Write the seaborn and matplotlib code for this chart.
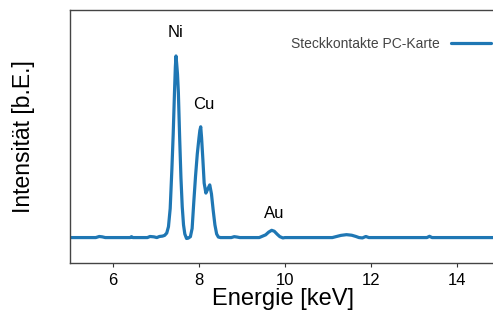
import matplotlib
matplotlib.use("Agg")
import matplotlib.pyplot as plt
import seaborn as sns
import pandas as pd

# Energy (keV) and intensity (arbitrary units)
energy = [5.0, 5.3, 5.6, 5.68, 5.75, 5.82, 6.2, 6.40, 6.43, 6.46, 6.8, 6.86, 6.95, 7.02,
          7.08, 7.15, 7.20, 7.25, 7.29, 7.33, 7.37, 7.40, 7.43, 7.45, 7.465, 7.48, 7.50,
          7.52, 7.55, 7.58, 7.61, 7.64, 7.67, 7.71, 7.75,
          7.80, 7.84, 7.88, 7.92, 7.96, 8.00, 8.02, 8.04, 8.06, 8.09, 8.12, 8.16, 8.20,
          8.25, 8.29, 8.33, 8.37, 8.41, 8.45,
          8.50, 8.75, 8.82, 8.88, 8.95, 9.40, 9.45, 9.55, 9.62, 9.69, 9.75, 9.82, 9.88,
          9.95, 10.0, 11.1, 11.2, 11.3, 11.43, 11.55, 11.65, 11.72, 11.8, 11.88, 11.95,
          13.3, 13.36, 13.42, 14.9]
intensity = [0.0, 0.0, 0.0, 0.006, 0.004, 0.0, 0.0, 0.0, 0.005, 0.0, 0.0, 0.006, 0.004, 0.0,
             0.006, 0.008, 0.012, 0.025, 0.06, 0.16, 0.38, 0.57, 0.80, 0.94, 1.0, 0.96, 0.90,
             0.80, 0.55, 0.33, 0.17, 0.07, 0.02, -0.005, -0.003,
             0.005, 0.05, 0.20, 0.34, 0.46, 0.55, 0.59, 0.61, 0.55, 0.43, 0.30, 0.245, 0.265,
             0.29, 0.24, 0.15, 0.07, 0.02, 0.003,
             0.0, 0.0, 0.005, 0.003, 0.0, 0.0, 0.005, 0.015, 0.03, 0.04, 0.035, 0.018, 0.005,
             -0.002, 0.0, 0.0, 0.006, 0.012, 0.016, 0.013, 0.006, 0.0, -0.002, 0.006, 0.0,
             0.0, 0.007, 0.0, 0.0]

peak_labels = ["Ni", "Cu", "Au"]
peak_x = [7.45, 8.12, 9.74]
peak_y = [1.13, 0.73, 0.13]

series_name = "Steckkontakte PC-Karte"
xticks = [6, 8, 10, 12, 14]

sns.set_theme(style="ticks")
plt.rcParams["font.family"] = ["Liberation Sans", "DejaVu Sans"]

df = pd.DataFrame({"Energie": energy, "Intensität": intensity})

fig = plt.figure(figsize=(4.93, 3.14), dpi=100)
ax = fig.add_axes([70 / 493, 1 - 263 / 314, 425 / 493, 253 / 314])

sns.lineplot(data=df, x="Energie", y="Intensität", ax=ax, color="#1f77b4",
             linewidth=2.3, label=series_name, sort=False)

ax.set_xlim(5, 5 + 425 / 43)
ax.set_ylim(-0.14, 1.253)
ax.set_xticks(xticks)
ax.set_xticklabels([str(t) for t in xticks])
ax.set_yticks([])
ax.tick_params(axis="x", labelsize=12, length=3, width=0.8, colors="#333333",
               labelcolor="black", pad=4)

for s in ["left", "bottom", "top", "right"]:
    ax.spines[s].set_visible(True)
    ax.spines[s].set_color("#444444")
    ax.spines[s].set_linewidth(1.0)

ax.set_xlabel("Energie [keV]", fontsize=17, labelpad=0, color="black")
ax.set_ylabel("Intensität [b.E.]", fontsize=16.5, labelpad=25, color="black")

for lab, xx, yy in zip(peak_labels, peak_x, peak_y):
    ax.text(xx, yy, lab, ha="center", va="center", fontsize=12, color="black")

leg = ax.legend(loc="center right", bbox_to_anchor=(491 / 493, 1 - 44 / 314),
                bbox_transform=fig.transFigure, frameon=False, markerfirst=False,
                fontsize=10, handlelength=2.9, handletextpad=0.8, borderaxespad=0,
                borderpad=0)
for t in leg.get_texts():
    t.set_color("#444444")

fig.savefig("out.png", dpi=100)
